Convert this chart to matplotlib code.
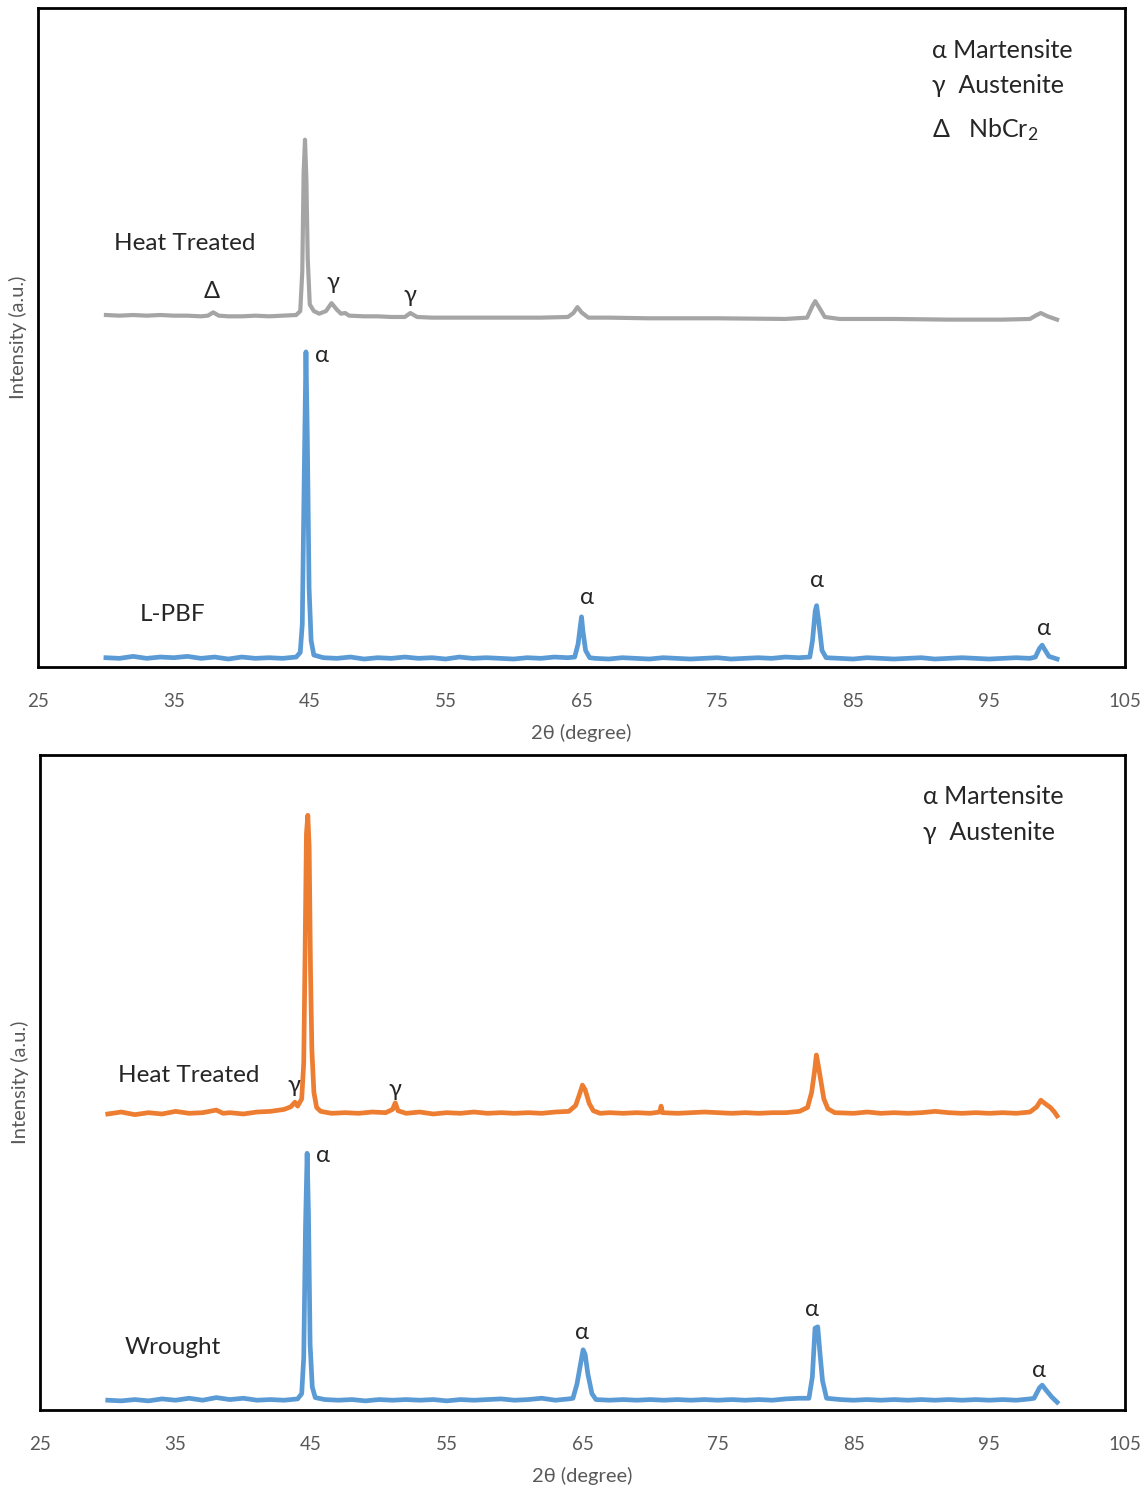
import matplotlib.pyplot as plt

plt.rcParams['font.family'] = ['Lato', 'DejaVu Sans']
plt.rcParams['mathtext.default'] = 'regular'

# x axis ticks (2 theta)
x_ticks = [25, 35, 45, 55, 65, 75, 85, 95, 105]

# L-PBF, heat treated (grey trace, top panel)
lpbf_ht_x = [30, 31, 32, 33, 34, 35, 36, 37, 37.5, 37.9, 38.3, 39, 40, 41, 42, 43, 44.0, 44.3,
             44.45, 44.55, 44.65, 44.75, 44.85, 45.0, 45.3, 45.7, 46.2, 46.6, 47.0, 47.3, 47.6,
             47.9, 49, 50, 51, 52.0, 52.4, 52.9, 54, 56, 58, 60, 62, 64.0, 64.4, 64.7, 65.0, 65.5,
             67, 70, 75, 80, 81.6, 82.0, 82.2, 82.5, 82.9, 84, 88, 92, 96, 98.0, 98.5, 98.8, 99.3, 100]
lpbf_ht_y = [53.4, 53.3, 53.4, 53.3, 53.4, 53.3, 53.3, 53.2, 53.3, 53.8, 53.3, 53.2, 53.2, 53.3,
             53.2, 53.3, 53.4, 54.0, 60.0, 75.0, 80.0, 74.0, 62.0, 55.0, 54.0, 53.6, 54.0, 55.2,
             54.2, 53.6, 53.7, 53.3, 53.2, 53.2, 53.1, 53.1, 53.7, 53.1, 53.0, 53.0, 53.0, 53.0,
             53.0, 53.1, 53.7, 54.6, 53.8, 53.0, 53.0, 52.9, 52.9, 52.8, 53.0, 54.8, 55.5, 54.5,
             53.1, 52.8, 52.8, 52.7, 52.7, 52.8, 53.4, 53.7, 53.2, 52.7]

# L-PBF, as built (blue trace, top panel)
lpbf_x = [30, 31, 32, 33, 34, 35, 36, 37, 38, 39, 40, 41, 42, 43, 44.0, 44.3, 44.45, 44.6,
          44.72, 44.82, 44.95, 45.1, 45.3, 46, 47, 48, 49, 50, 51, 52, 53, 54, 55, 56, 57, 58,
          59, 60, 61, 62, 63, 64, 64.5, 64.75, 64.9, 65.0, 65.1, 65.3, 65.6, 66, 67, 68, 69,
          70, 71, 72, 73, 74, 75, 76, 77, 78, 79, 80, 81, 81.8, 82.0, 82.2, 82.3, 82.45, 82.7,
          83.0, 84, 85, 86, 87, 88, 89, 90, 91, 92, 93, 94, 95, 96, 97, 98, 98.4, 98.7, 98.9,
          99.1, 99.4, 100]
lpbf_y = [1.4, 1.3, 1.6, 1.3, 1.5, 1.4, 1.6, 1.3, 1.5, 1.2, 1.5, 1.3, 1.4, 1.3, 1.5, 2.2, 6.5,
          30.0, 47.8, 35.0, 12.0, 4.0, 1.8, 1.4, 1.3, 1.5, 1.2, 1.4, 1.3, 1.5, 1.3, 1.4, 1.2, 1.5,
          1.3, 1.4, 1.3, 1.2, 1.4, 1.3, 1.5, 1.4, 1.5, 3.5, 6.0, 7.6, 5.5, 2.5, 1.4, 1.3, 1.2,
          1.4, 1.3, 1.2, 1.4, 1.3, 1.2, 1.3, 1.4, 1.2, 1.3, 1.4, 1.3, 1.5, 1.4, 1.5, 4.0, 8.5,
          9.3, 7.0, 2.5, 1.4, 1.3, 1.2, 1.4, 1.3, 1.2, 1.3, 1.4, 1.2, 1.3, 1.4, 1.3, 1.2, 1.3,
          1.4, 1.3, 1.5, 2.8, 3.3, 2.6, 1.6, 1.2]

# Wrought, heat treated (orange trace, bottom panel)
wr_ht_x = [30, 31, 32, 33, 34, 35, 36, 37, 38, 38.5, 39, 40, 41, 42, 43, 43.5, 43.8, 44.0,
           44.3, 44.45, 44.55, 44.65, 44.75, 44.85, 44.95, 45.05, 45.2, 45.4, 45.7, 46.5, 47.5,
           48.5, 49.5, 50.5, 51.0, 51.2, 51.4, 52, 53, 54, 55, 56, 57, 58, 59, 60, 61, 62, 63,
           64.0, 64.5, 64.8, 65.0, 65.2, 65.5, 65.8, 66.3, 67, 68, 69, 70, 70.7, 70.8, 70.9, 72,
           73, 74, 75, 76, 77, 78, 79, 80, 81, 81.6, 81.9, 82.1, 82.25, 82.4, 82.6, 82.8, 83.1,
           83.6, 85, 86, 87, 88, 89, 90, 91, 92, 93, 94, 95, 96, 97, 98, 98.5, 98.8, 99.1, 99.5,
           99.8, 100]
wr_ht_y = [45.2, 45.5, 45.1, 45.4, 45.2, 45.6, 45.3, 45.4, 45.8, 45.3, 45.4, 45.2, 45.5, 45.6,
           45.9, 46.3, 47.0, 46.4, 47.5, 53.0, 70.0, 88.0, 90.8, 86.0, 67.0, 55.0, 48.5, 46.2,
           45.6, 45.3, 45.4, 45.3, 45.5, 45.4, 45.9, 46.9, 45.7, 45.3, 45.5, 45.2, 45.4, 45.3,
           45.5, 45.3, 45.4, 45.3, 45.4, 45.3, 45.5, 45.6, 46.5, 48.3, 49.6, 48.9, 46.8, 45.7,
           45.3, 45.4, 45.3, 45.4, 45.3, 45.5, 46.4, 45.4, 45.3, 45.4, 45.5, 45.4, 45.3, 45.4,
           45.3, 45.4, 45.4, 45.6, 46.2, 48.5, 51.5, 54.2, 52.5, 50.0, 47.5, 46.0, 45.4, 45.3,
           45.5, 45.3, 45.4, 45.3, 45.4, 45.6, 45.4, 45.3, 45.4, 45.3, 45.4, 45.3, 45.5, 46.3,
           47.3, 46.8, 46.2, 45.5, 44.9]

# Wrought, as received (blue trace, bottom panel)
wr_x = [30, 31, 32, 33, 34, 35, 36, 37, 38, 39, 40, 41, 42, 43, 44.0, 44.3, 44.45, 44.58,
        44.7, 44.8, 44.92, 45.08, 45.3, 46, 47, 48, 49, 50, 51, 52, 53, 54, 55, 56, 57, 58,
        59, 60, 61, 62, 63, 64, 64.3, 64.6, 64.9, 65.05, 65.2, 65.4, 65.7, 66.0, 67, 68, 69,
        70, 71, 72, 73, 74, 75, 76, 77, 78, 79, 80, 81, 81.7, 81.95, 82.15, 82.35, 82.5, 82.7,
        83.0, 84, 85, 86, 87, 88, 89, 90, 91, 92, 93, 94, 95, 96, 97, 98, 98.3, 98.7, 98.9,
        99.2, 99.6, 100]
wr_y = [1.5, 1.4, 1.6, 1.4, 1.7, 1.5, 1.8, 1.5, 1.9, 1.6, 1.8, 1.5, 1.6, 1.5, 1.7, 2.5, 8.0,
        28.0, 39.2, 30.0, 10.0, 3.5, 1.9, 1.6, 1.5, 1.6, 1.4, 1.6, 1.5, 1.6, 1.5, 1.6, 1.4, 1.6,
        1.5, 1.6, 1.7, 1.5, 1.6, 1.8, 1.5, 1.7, 1.8, 4.0, 7.5, 9.2, 8.5, 5.5, 2.5, 1.6, 1.5,
        1.6, 1.5, 1.6, 1.5, 1.6, 1.5, 1.6, 1.5, 1.6, 1.5, 1.6, 1.5, 1.7, 1.8, 1.8, 5.0, 12.5,
        12.7, 9.0, 4.5, 1.8, 1.6, 1.5, 1.6, 1.5, 1.6, 1.5, 1.6, 1.5, 1.6, 1.5, 1.6, 1.5, 1.6,
        1.5, 1.7, 1.8, 3.4, 3.8, 3.0, 2.0, 1.2]

grey = '#A5A5A5'
blue = '#5B9BD5'
orange = '#ED7D31'
text_col = '#262626'
tick_col = '#595959'

fig = plt.figure(figsize=(11.48, 14.91), dpi=100)
ax1 = fig.add_axes([0.0331, 0.5527, 0.9469, 0.4420])
ax2 = fig.add_axes([0.0348, 0.0543, 0.9451, 0.4393])


def style_axis(ax):
    ax.set_xlim(25, 105)
    ax.set_ylim(0, 100)
    ax.set_xticks(x_ticks)
    ax.set_yticks([])
    ax.tick_params(axis='x', length=0, pad=19, labelsize=13.5, labelcolor=tick_col)
    for s in ax.spines.values():
        s.set_linewidth(2)
        s.set_color('black')
    ax.set_xlabel('2θ (degree)', fontsize=14.5, color=tick_col, labelpad=10)
    ax.set_ylabel('Intensity (a.u.)', fontsize=14.5, color=tick_col, labelpad=8)


# top panel: L-PBF
ax1.plot(lpbf_ht_x, lpbf_ht_y, color=grey, lw=3)
ax1.plot(lpbf_x, lpbf_y, color=blue, lw=3.4)
style_axis(ax1)

ax1.text(35.8, 64.2, 'Heat Treated', fontsize=17.5, color=text_col, ha='center', va='center')
ax1.text(34.9, 7.9, 'L-PBF', fontsize=17.5, color=text_col, ha='center', va='center')
ax1.text(37.8, 56.9, 'Δ', fontsize=17, color=text_col, ha='center', va='center')
ax1.text(46.7, 58.3, 'γ', fontsize=17, color=text_col, ha='center', va='center')
ax1.text(52.4, 56.3, 'γ', fontsize=17, color=text_col, ha='center', va='center')
for x, y in [(45.9, 47.3), (65.4, 10.5), (82.3, 13.1), (99.0, 5.9)]:
    ax1.text(x, y, 'α', fontsize=17, color=text_col, ha='center', va='center')
ax1.text(90.8, 93.6, 'α Martensite', fontsize=18, color=text_col, va='center')
ax1.text(90.8, 88.2, 'γ  Austenite', fontsize=18, color=text_col, va='center')
ax1.text(90.8, 81.6, 'Δ   NbCr$_2$', fontsize=18, color=text_col, va='center')

# bottom panel: wrought
ax2.plot(wr_ht_x, wr_ht_y, color=orange, lw=3.4)
ax2.plot(wr_x, wr_y, color=blue, lw=3.4)
style_axis(ax2)

ax2.text(36.0, 51.1, 'Heat Treated', fontsize=17.5, color=text_col, ha='center', va='center')
ax2.text(34.8, 9.5, 'Wrought', fontsize=17.5, color=text_col, ha='center', va='center')
ax2.text(43.7, 49.6, 'γ', fontsize=17, color=text_col, ha='center', va='center')
ax2.text(51.2, 49.0, 'γ', fontsize=17, color=text_col, ha='center', va='center')
for x, y in [(45.9, 38.9), (65.0, 11.9), (81.9, 15.4), (98.7, 6.0)]:
    ax2.text(x, y, 'α', fontsize=17, color=text_col, ha='center', va='center')
ax2.text(90.1, 93.7, 'α Martensite', fontsize=18, color=text_col, va='center')
ax2.text(90.1, 88.1, 'γ  Austenite', fontsize=18, color=text_col, va='center')

fig.savefig('out.png', dpi=100)
